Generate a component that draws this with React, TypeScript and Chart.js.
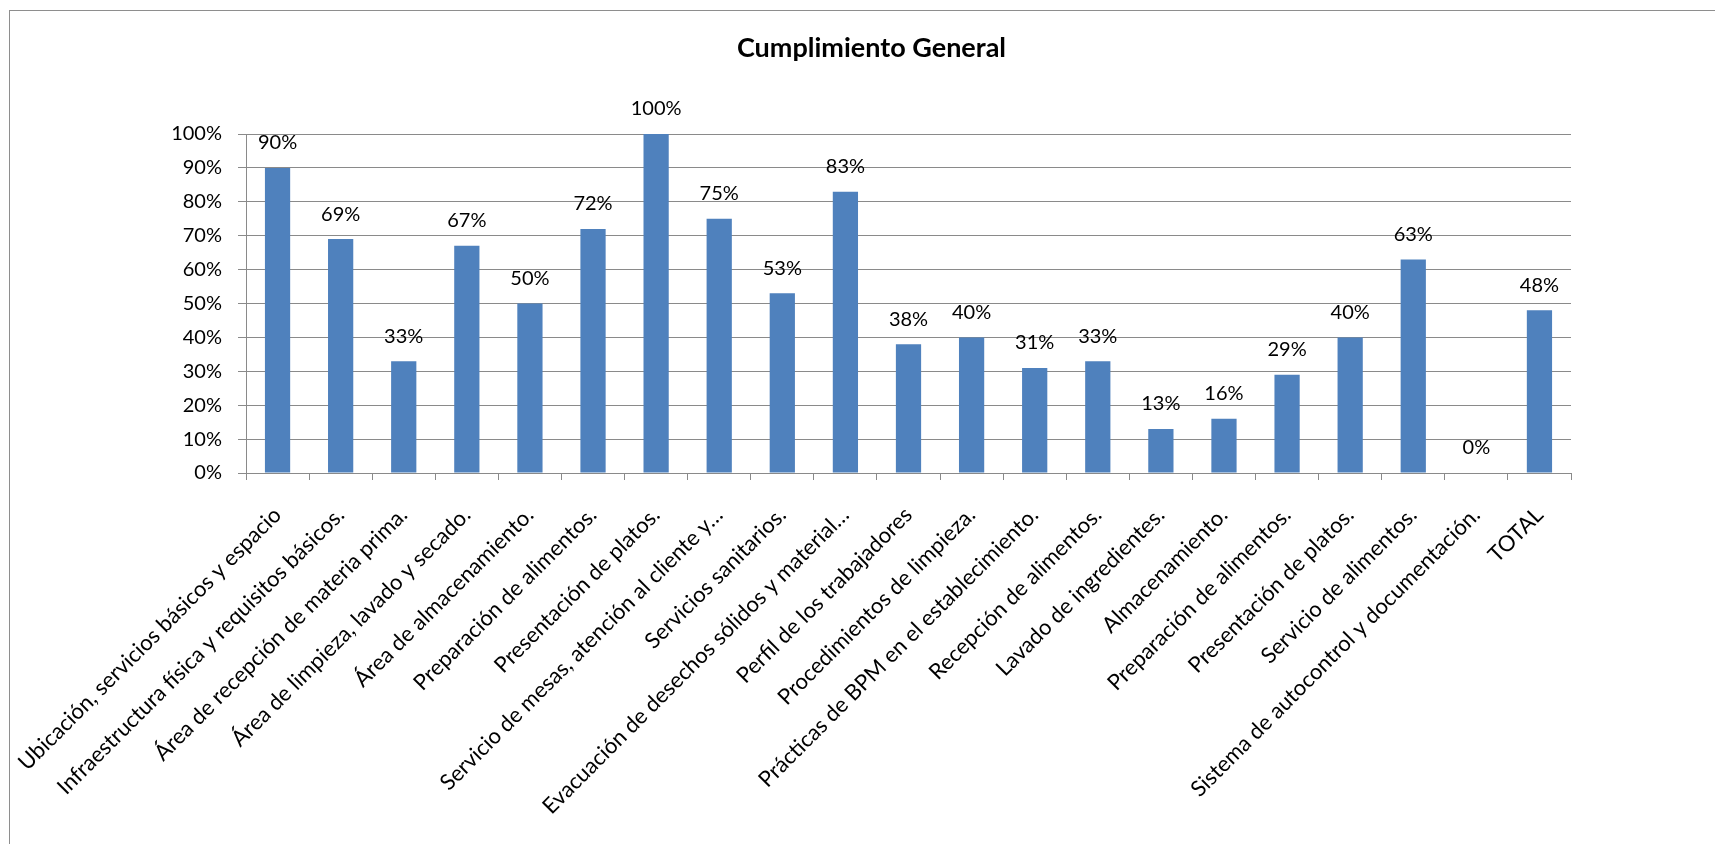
import { useEffect, useRef } from "react";
import { Chart, registerables } from "chart.js";

Chart.register(...registerables);

const chartTitle = "Cumplimiento General";

const categories = [
  "Ubicación, servicios básicos y espacio",
  "Infraestructura física y requisitos básicos.",
  "Área de recepción de materia prima.",
  "Área de limpieza, lavado y secado.",
  "Área de almacenamiento.",
  "Preparación de alimentos.",
  "Presentación de platos.",
  "Servicio de mesas, atención al cliente y…",
  "Servicios sanitarios.",
  "Evacuación de desechos sólidos y material…",
  "Perfil de los trabajadores",
  "Procedimientos de limpieza.",
  "Prácticas de BPM en el establecimiento.",
  "Recepción de alimentos.",
  "Lavado de ingredientes.",
  "Almacenamiento.",
  "Preparación de alimentos.",
  "Presentación de platos.",
  "Servicio de alimentos.",
  "Sistema de autocontrol y documentación.",
  "TOTAL",
];

const values = [90, 69, 33, 67, 50, 72, 100, 75, 53, 83, 38, 40, 31, 33, 13, 16, 29, 40, 63, 0, 48];

const yMin = 0;
const yMax = 100;
const yStep = 10;

const BAR_COLOR = "#4F81BD";
const GRID_COLOR = "#8a8a8a";
const FONT = "Lato";

const titlePlugin = {
  id: "centeredTitle",
  afterDraw(chart: any) {
    const ctx = chart.ctx;
    ctx.save();
    ctx.font = `bold 27px ${FONT}`;
    ctx.fillStyle = "#000";
    ctx.textAlign = "center";
    ctx.textBaseline = "middle";
    ctx.fillText(chartTitle, 871.5, 48);
    ctx.restore();
  },
};

const dataLabelPlugin = {
  id: "dataLabels",
  afterDatasetsDraw(chart: any) {
    const ctx = chart.ctx;
    const meta = chart.getDatasetMeta(0);
    ctx.save();
    ctx.font = `20px ${FONT}`;
    ctx.fillStyle = "#000";
    ctx.textAlign = "center";
    ctx.textBaseline = "middle";
    meta.data.forEach((bar: any, i: number) => {
      const v = chart.data.datasets[0].data[i];
      ctx.fillText(`${v}%`, bar.x, bar.y - 25);
    });
    ctx.restore();
  },
};

export default function App() {
  const ref = useRef<HTMLCanvasElement | null>(null);

  useEffect(() => {
    if (!ref.current) return;
    const chart = new Chart(ref.current, {
      type: "bar",
      data: {
        labels: categories,
        datasets: [
          {
            data: values,
            backgroundColor: BAR_COLOR,
            borderWidth: 0,
            categoryPercentage: 1,
            barPercentage: 0.4,
          },
        ],
      },
      options: {
        responsive: false,
        animation: false,
        events: [],
        layout: { padding: { left: 0, right: 144, top: 134, bottom: 0 } },
        plugins: {
          legend: { display: false },
          tooltip: { enabled: false },
          title: { display: false },
        },
        scales: {
          x: {
            offset: true,
            grid: {
              offset: true,
              drawOnChartArea: false,
              drawTicks: true,
              tickLength: 7,
              color: GRID_COLOR,
            },
            border: { display: true, color: GRID_COLOR, width: 1 },
            ticks: {
              autoSkip: false,
              minRotation: 45,
              maxRotation: 45,
              color: "#000",
              padding: 22,
              font: { family: FONT, size: 22 },
            },
            afterFit(scale: any) {
              scale.height = 844 - 473;
              scale.paddingLeft = 0;
              scale.paddingRight = 0;
            },
          },
          y: {
            min: yMin,
            max: yMax,
            ticks: {
              stepSize: yStep,
              color: "#000",
              padding: 16,
              font: { family: FONT, size: 20 },
              callback: (v: any) => `${v}%`,
            },
            grid: {
              color: GRID_COLOR,
              lineWidth: 1,
              tickLength: 8,
              drawTicks: true,
            },
            border: { display: true, color: GRID_COLOR, width: 1 },
            afterFit(scale: any) {
              scale.width = 246;
              scale.paddingTop = 0;
              scale.paddingBottom = 0;
            },
          },
        },
      },
      plugins: [dataLabelPlugin, titlePlugin],
    });
    return () => chart.destroy();
  }, []);

  return (
    <div style={{ position: "fixed", inset: 0, overflow: "hidden", background: "#fff" }}>
      <div
        style={{
          position: "absolute",
          left: 9,
          top: 10,
          width: 1800,
          height: 900,
          border: "1px solid #8e8e8e",
          boxSizing: "border-box",
        }}
      />
      <canvas
        ref={ref}
        width={1715}
        height={844}
        style={{ position: "absolute", left: 0, top: 0, width: 1715, height: 844 }}
      />
    </div>
  );
}
